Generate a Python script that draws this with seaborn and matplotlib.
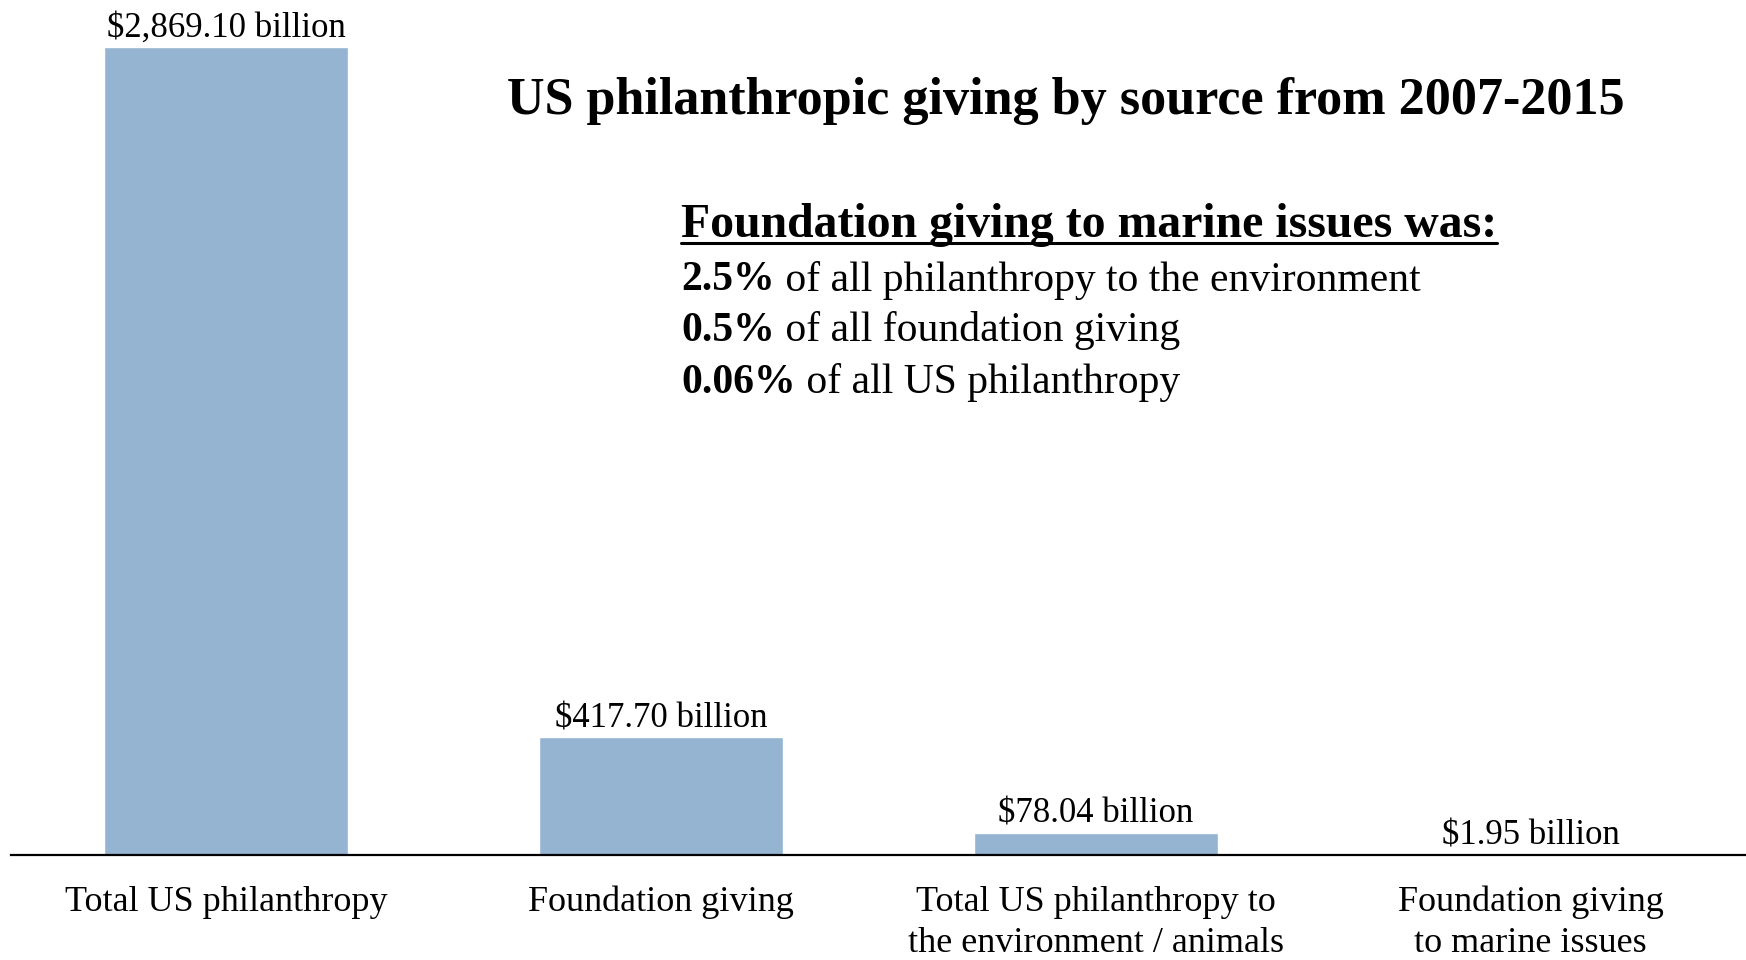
import matplotlib
matplotlib.use("Agg")
import matplotlib.pyplot as plt
import seaborn as sns
from matplotlib.lines import Line2D

categories = [
    "Total US philanthropy",
    "Foundation giving",
    "Total US philanthropy to\nthe environment / animals",
    "Foundation giving\nto marine issues",
]
values = [2869.10, 417.70, 78.04, 1.95]

title_text = "US philanthropic giving by source from 2007-2015"
note_heading = "Foundation giving to marine issues was:"
note_bold = ["2.5%", "0.5%", "0.06%"]
note_rest = [" of all philanthropy to the environment",
             " of all foundation giving",
             " of all US philanthropy"]

BAR_COLOR = "#94B4D1"
FONT = ["Liberation Serif", "DejaVu Serif"]

sns.set_theme(style="white")
plt.rcParams["font.family"] = FONT

fig = plt.figure(figsize=(17.46, 9.6), dpi=100)
ax = fig.add_axes([11 / 1746, 105 / 960, 1735 / 1746, 855 / 960])

sns.barplot(x=categories, y=values, color=BAR_COLOR, saturation=1,
            width=0.562, ax=ax)

ax.set_xlim(-0.495, 3.495)
ax.set_ylim(0, max(values) * 855 / 808)
ax.set_xlabel("")
ax.set_ylabel("")
ax.set_yticks([])
for side in ("left", "right", "top"):
    ax.spines[side].set_visible(False)
ax.spines["bottom"].set_color("black")
ax.spines["bottom"].set_linewidth(1.6)
ax.tick_params(axis="x", length=0, pad=22, labelsize=26, colors="black")
for lab in ax.get_xticklabels():
    lab.set_linespacing(1.33)

labels = [f"${v:,.2f} billion" for v in values]
ax.bar_label(ax.containers[0], labels=labels, padding=1.5, fontsize=25,
             color="black")

fig.text(1066 / 1746, 1 - 101 / 960, title_text, ha="center", va="center",
         fontsize=37.5, fontweight="bold", color="black")

# heading with underline
heading = fig.text(681 / 1746, 1 - 225 / 960, note_heading, ha="left",
                   va="center", fontsize=34.4, fontweight="bold", color="black")

fig.canvas.draw()
renderer = fig.canvas.get_renderer()
bb = heading.get_window_extent(renderer)
W, H = fig.bbox.width, fig.bbox.height
uy = (960 - 243) / 960
fig.add_artist(Line2D([bb.x0 / W, bb.x1 / W], [uy, uy], transform=fig.transFigure,
                      color="black", linewidth=2.2))

line_y = [280, 331, 383]
for b, r, y in zip(note_bold, note_rest, line_y):
    t = fig.text(681 / 1746, 1 - y / 960, b, ha="left", va="center",
                 fontsize=30, fontweight="bold", color="black")
    fig.canvas.draw()
    tb = t.get_window_extent(renderer)
    fig.text(tb.x1 / W, 1 - y / 960, r, ha="left", va="center",
             fontsize=30, color="black")

fig.savefig("out.png", dpi=100, facecolor="white")
